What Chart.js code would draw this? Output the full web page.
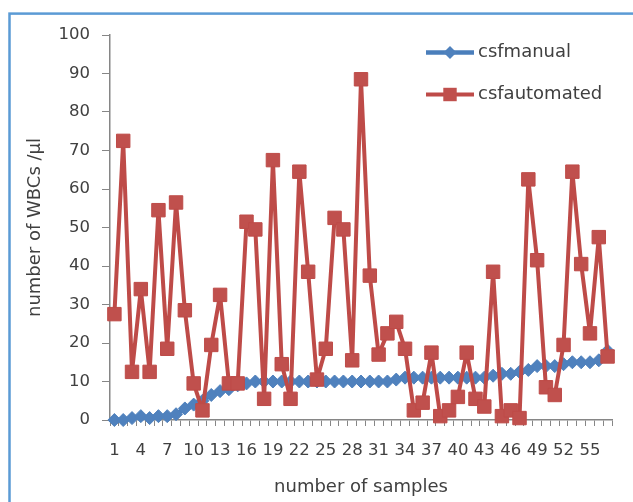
<!DOCTYPE html>
<html>
<head>
<meta charset="utf-8">
<script src="https://cdn.jsdelivr.net/npm/chart.js@4.4.1/dist/chart.umd.min.js"></script>
<style>
  html, body { margin: 0; padding: 0; background: #ffffff; }
  #wrap { width: 633px; height: 502px; }
</style>
</head>
<body>
<div id="wrap"><canvas id="c" width="633" height="502"></canvas></div>
<script>
// ---- data ----
const sampleLabels = Array.from({length: 57}, (_, i) => String(i + 1));
const csfmanual = [
  0, 0, 0.5, 1, 0.5, 1, 1, 1.5, 3, 4,
  5, 6.5, 7.5, 8, 9, 9.5, 10, 10, 10, 10,
  10, 10, 10, 10, 10, 10, 10, 10, 10, 10,
  10, 10, 10.5, 11, 11, 11, 11, 11, 11, 11,
  11, 11, 11, 11.5, 12, 12, 12.5, 13, 14, 14,
  14, 14.5, 15, 15, 15, 15.5, 18
];
const csfautomated = [
  27.5, 72.5, 12.5, 34, 12.5, 54.5, 18.5, 56.5, 28.5, 9.5,
  2.5, 19.5, 32.5, 9.5, 9.5, 51.5, 49.5, 5.5, 67.5, 14.5,
  5.5, 64.5, 38.5, 10.5, 18.5, 52.5, 49.5, 15.5, 88.5, 37.5,
  17, 22.5, 25.5, 18.5, 2.5, 4.5, 17.5, 1, 2.5, 6,
  17.5, 5.5, 3.5, 38.5, 1, 2.5, 0.5, 62.5, 41.5, 8.5,
  6.5, 19.5, 64.5, 40.5, 22.5, 47.5, 16.5
];
const seriesNames = ['csfmanual', 'csfautomated'];
const yAxisTitle = 'number of WBCs /µl';
const xAxisTitle = 'number of samples';

// ---- styles ----
const FONT = 'DejaVu Sans';
const TEXT = '#404040';
const AXIS = '#868686';
const BLUE_LINE = '#4a7ebb', BLUE_FILL = '#4f81bd';
const RED_LINE = '#be4b48', RED_FILL = '#c0504d';

const borderPlugin = {
  id: 'outerBorder',
  beforeDraw(chart) {
    const ctx = chart.ctx;
    ctx.save();
    ctx.fillStyle = '#ffffff';
    ctx.fillRect(0, 0, chart.width, chart.height);
    ctx.strokeStyle = '#5b9bd5';
    ctx.lineWidth = 2.5;
    ctx.strokeRect(9.5, 13.6, 800, 800);
    ctx.restore();
  }
};

const legendPlugin = {
  id: 'customLegend',
  afterDraw(chart) {
    const ctx = chart.ctx;
    const rows = [52.5, 94.5];
    const x0 = 426, x1 = 474, xm = 450, tx = 478;
    ctx.save();
    chart.data.datasets.forEach((ds, i) => {
      const y = rows[i];
      ctx.strokeStyle = ds.borderColor;
      ctx.lineWidth = ds.borderWidth;
      ctx.beginPath();
      ctx.moveTo(x0, y);
      ctx.lineTo(x1, y);
      ctx.stroke();
      ctx.fillStyle = ds.pointBackgroundColor;
      ctx.beginPath();
      if (ds.pointStyle === 'rect') {
        const s = Math.SQRT1_2 * ds.pointRadius;
        ctx.rect(xm - s, y - s, 2 * s, 2 * s);
      } else {
        const r = ds.pointRadius;
        ctx.moveTo(xm - r, y); ctx.lineTo(xm, y - r); ctx.lineTo(xm + r, y); ctx.lineTo(xm, y + r); ctx.closePath();
      }
      ctx.fill();
      ctx.fillStyle = TEXT;
      ctx.font = '18px "' + FONT + '"';
      ctx.textAlign = 'left';
      ctx.textBaseline = 'middle';
      ctx.fillText(ds.label, tx, y);
    });
    ctx.restore();
  }
};

new Chart(document.getElementById('c'), {
  type: 'line',
  data: {
    labels: sampleLabels,
    datasets: [
      {
        label: seriesNames[0],
        data: csfmanual,
        borderColor: BLUE_LINE,
        borderWidth: 4.5,
        borderJoinStyle: 'round',
        borderCapStyle: 'round',
        pointStyle: 'rectRot',
        pointRadius: 6.5,
        pointBackgroundColor: BLUE_FILL,
        pointBorderColor: BLUE_FILL,
        pointBorderWidth: 1,
        tension: 0,
        clip: false,
        order: 1
      },
      {
        label: seriesNames[1],
        data: csfautomated,
        borderColor: RED_LINE,
        borderWidth: 4,
        borderJoinStyle: 'round',
        borderCapStyle: 'round',
        pointStyle: 'rect',
        pointRadius: 9.5,
        pointBackgroundColor: RED_FILL,
        pointBorderColor: RED_LINE,
        pointBorderWidth: 1,
        tension: 0,
        clip: false,
        order: 0
      }
    ]
  },
  options: {
    responsive: false,
    animation: false,
    devicePixelRatio: 1,
    layout: { padding: { top: 35, right: 21, left: 0, bottom: 0 } },
    plugins: {
      legend: { display: false },
      tooltip: { enabled: false }
    },
    scales: {
      x: {
        type: 'category',
        offset: true,
        grid: {
          display: true,
          drawOnChartArea: false,
          offset: true,
          tickLength: 6,
          color: AXIS,
          lineWidth: 1
        },
        border: { display: true, color: AXIS, width: 1.5 },
        ticks: {
          autoSkip: false,
          maxRotation: 0,
          minRotation: 0,
          padding: 15,
          color: TEXT,
          font: { family: FONT, size: 16.5 },
          callback: function (value, index) {
            return (index % 3 === 0 && index < 55) ? this.getLabelForValue(value) : '';
          }
        },
        title: {
          display: true,
          text: xAxisTitle,
          color: TEXT,
          font: { family: FONT, size: 18 },
          padding: { top: 0, bottom: 4 }
        },
        afterFit: (scale) => { scale.height = 82; }
      },
      y: {
        min: 0,
        max: 100,
        grid: {
          display: true,
          drawOnChartArea: false,
          tickLength: 8,
          color: AXIS,
          lineWidth: 1
        },
        border: { display: true, color: AXIS, width: 1.5 },
        ticks: {
          stepSize: 10,
          padding: 12,
          color: TEXT,
          font: { family: FONT, size: 16.5 }
        },
        title: {
          display: true,
          text: yAxisTitle,
          color: TEXT,
          font: { family: FONT, size: 18 },
          padding: { top: 25, bottom: 0 }
        },
        afterFit: (scale) => { scale.width = 110; }
      }
    }
  },
  plugins: [borderPlugin, legendPlugin]
});
</script>
</body>
</html>
